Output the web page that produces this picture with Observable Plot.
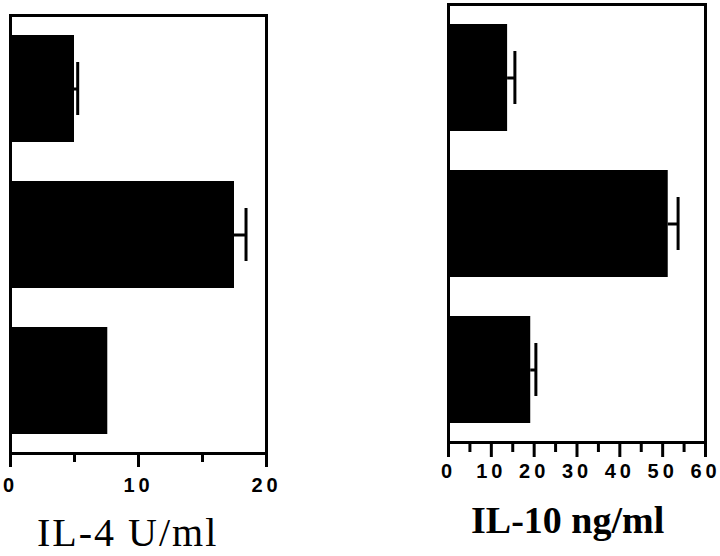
<!DOCTYPE html>
<html>
<head>
<meta charset="utf-8">
<script src="https://cdn.jsdelivr.net/npm/d3@7"></script>
<script src="https://cdn.jsdelivr.net/npm/@observablehq/plot@0.6"></script>
<style>
  html, body { margin: 0; padding: 0; background: #fff; }
  #wrap { position: relative; width: 720px; height: 556px; overflow: hidden; }
  .panel { position: absolute; top: 0; }
  .lab { position: absolute; font-family: "Liberation Serif", "Times New Roman", serif; color: #000; white-space: nowrap; }
</style>
</head>
<body>
<div id="wrap">
  <div id="left" class="panel" style="left:0px"></div>
  <div id="right" class="panel" style="left:420px"></div>
  <div class="lab" style="left:37px; top:509px; font-size:40px; letter-spacing:2px;">IL-4 U/ml</div>
  <div class="lab" style="left:471px; top:498px; font-size:38px; font-weight:bold;">IL-10 ng/ml</div>
</div>
<script>
// Data
const groups = ["Group 1", "Group 2", "Group 3"];
const il4Values = [5.0, 17.5, 7.6];
const il4Errors = [0.25, 0.9, 0];
const il10Values = [13.8, 51.3, 19.2];
const il10Errors = [1.7, 2.3, 1.2];
const il4MajorTicks = [0, 10, 20];
const il4MinorTicks = [5, 15];
const il10MajorTicks = [0, 10, 20, 30, 40, 50, 60];
const il10MinorTicks = [5, 15, 25, 35, 45, 55];

function panel({values, errors, domain, major, minor, width, height, ml, mr, mt, mb, majorLen, minorLen, labelOffset}) {
  const rows = groups.map((g, i) => ({g, v: values[i], e: errors[i]}));
  const errRows = rows.filter(d => d.e > 0);
  const plotH = height - mt - mb;
  return Plot.plot({
    width, height,
    marginLeft: ml, marginRight: mr, marginTop: mt, marginBottom: mb,
    style: {fontFamily: "Liberation Sans, Arial, sans-serif", fontSize: "20px", fontWeight: "bold", letterSpacing: "4px", color: "#000", background: "#fff"},
    x: {domain, axis: null},
    y: {domain: groups, axis: null, paddingInner: 0.27, paddingOuter: 0.135},
    marks: [
      Plot.barX(rows, {y: "g", x: "v", fill: "#000"}),
      Plot.ruleY(errRows, {y: "g", x1: "v", x2: d => d.v + d.e, stroke: "#000", strokeWidth: 3}),
      Plot.tickX(errRows, {y: "g", x: d => d.v + d.e, stroke: "#000", strokeWidth: 3, insetTop: 27, insetBottom: 27}),
      Plot.frame({stroke: "#000", strokeWidth: 3}),
      Plot.tickX(major, {x: d => d, stroke: "#000", strokeWidth: 3, insetTop: plotH, insetBottom: -majorLen}),
      Plot.tickX(minor, {x: d => d, stroke: "#000", strokeWidth: 3, insetTop: plotH, insetBottom: -minorLen}),
      Plot.axisX({ticks: major, tickSize: 0, label: null, tickPadding: majorLen + labelOffset, fontSize: 20, fontWeight: "bold", tickFormat: d => String(d)})
    ]
  });
}

document.getElementById("left").appendChild(panel({
  values: il4Values, errors: il4Errors, domain: [0, 20],
  major: il4MajorTicks, minor: il4MinorTicks,
  width: 300, height: 500, ml: 10, mr: 34, mt: 15, mb: 47,
  majorLen: 14, minorLen: 9, labelOffset: 10
}));

document.getElementById("right").appendChild(panel({
  values: il10Values, errors: il10Errors, domain: [0, 60],
  major: il10MajorTicks, minor: il10MinorTicks,
  width: 300, height: 490, ml: 28, mr: 15, mt: 4, mb: 48,
  majorLen: 15, minorLen: 10, labelOffset: 6
}));
</script>
</body>
</html>
